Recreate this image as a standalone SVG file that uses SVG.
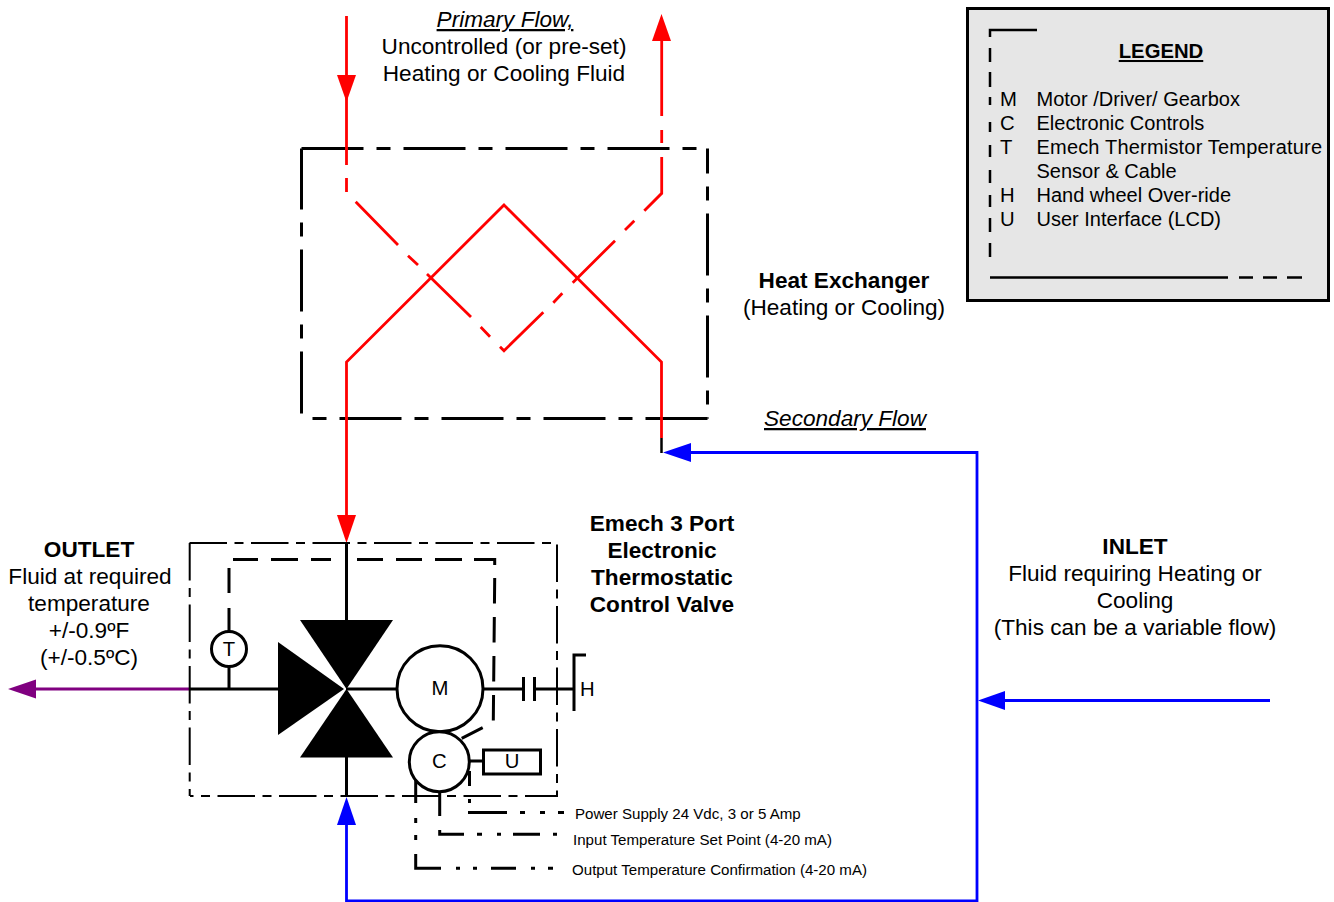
<svg xmlns="http://www.w3.org/2000/svg" width="1334" height="902" viewBox="0 0 1334 902">
<style>
text{font-family:"Liberation Sans",Arial,sans-serif;font-size:22.6px;fill:#000}
.c{text-anchor:middle}
.b{font-weight:bold}
.u{text-decoration:underline}
.i{font-style:italic}
.s{font-size:15.1px}
.l{font-size:20.3px}
.m{font-size:20px}
.k{fill:none;stroke:#000;stroke-width:2.5}
.t{fill:none;stroke:#000;stroke-width:3}
.w{fill:#fff;stroke:#000;stroke-width:3}
.hx{fill:none;stroke:#000;stroke-width:3;stroke-dasharray:62 13 14 13}
.vb{fill:none;stroke:#000;stroke-width:2;stroke-dasharray:37.5 7.5 9 7.5}
.r{fill:none;stroke:#f00;stroke-width:2.8}
.bl{fill:none;stroke:#00f;stroke-width:2.8}
</style>
<g id="heat-exchanger">
<path class="hx" d="M301.5 148.5H707.5"/>
<path class="hx" style="stroke-dashoffset:37" d="M707.5 148.5V418.5"/>
<path class="hx" d="M707.5 418.5H301.5"/>
<path class="hx" style="stroke-dashoffset:97" d="M301.5 418.5V148.5"/>
<path class="r" d="M346.5 515V362L504 205L661.5 362V438"/>
<path d="M661.5 438V453" class="k"/>
</g>
<g id="connectors">
<path class="r" d="M346.5 16V165M346.5 178V192"/>
<path class="r" d="M355.7 201.7L398 245M408 255.7L418 265M427 274L471 317M480.7 327L490 336.7M500 346.7L504 350.7L543.3 312.3M553.3 302.7L562.3 293.3M572.7 282.7L615 240.7M625 230L634.3 220.7M644.3 210.7L661.7 193.3V157M661.7 143V130M661.7 116V41"/>
<path class="bl" d="M690 452.5H977V901H346.5V825"/>
<path class="bl" d="M1270 700.5H1005"/>
<path d="M190 689H36" fill="none" stroke="#800080" stroke-width="2.8"/>
<path d="M346.5 102L337 75H356Z" fill="#f00"/>
<path d="M661.5 14L652 41H671Z" fill="#f00"/>
<path d="M346.5 543L337 515H356Z" fill="#f00"/>
<path d="M663 452.5L691 443V462Z" fill="#00f"/>
<path d="M346.5 797L337 825H356Z" fill="#00f"/>
<path d="M978 700.5L1005 691V710Z" fill="#00f"/>
<path d="M8 689L36 679.5V698.5Z" fill="#800080"/>
</g>
<g id="valve">
<path class="vb" d="M189.5 543H557V796H190"/>
<path class="vb" d="M189.7 543V796"/>
<path class="t" d="M346.5 543V620M346.5 757V796M190 689H278M346 689H397"/>
<path d="M300 620H393L346.5 689Z"/>
<path d="M300 757.5H393L346.5 689Z"/>
<path d="M278 642V735L344 689Z"/>
</g>
<g id="sensor">
<path class="t" d="M229 689V667M229 632V608M229 593V568"/>
<path class="t" d="M233 559.5H258M271 559.5H298M311 559.5H331M357 559.5H383M396 559.5H422M435 559.5H462M474 559.5H494.7V565"/>
<path class="t" style="stroke-dasharray:25.5 13.5" d="M494.7 578L493.3 721"/>
<circle class="w" cx="229" cy="649" r="17.5"/>
<text class="c l" x="229" y="656">T</text>
</g>
<g id="motor">
<path class="t" d="M483 689H523M523.5 677V701M534.5 677V701M534 689H574M574 711V655H586"/>
<circle class="w" cx="440" cy="688.7" r="43"/>
<text class="c l" x="440" y="695">M</text>
<text class="l" x="580" y="696">H</text>
</g>
<g id="controls">
<path class="t" d="M461.7 738.3L482.7 727.7M470 761H483M415.7 780V803M439.7 791V816M469.5 771V786"/>
<circle class="w" cx="439.3" cy="761.7" r="30"/>
<text class="c l" x="439.3" y="768">C</text>
<rect class="t" x="483.5" y="750" width="57" height="24"/>
<text class="c l" x="512" y="768">U</text>
<path class="t" d="M415.7 818V823M415.7 835V840M415.7 854V868.3H441M456 868.3H460M473 868.3H477M491 868.3H516M531 868.3H535M548 868.3H553"/>
<path class="t" d="M439.7 830V834.3H464M477 834.3H482M497 834.3H501M513 834.3H540M553 834.3H557"/>
<path class="t" d="M469.5 799V803M468 812.5H507M520 812.5H525M540 812.5H545M558 812.5H564"/>
</g>
<g id="labels">
<text class="c i u" x="505" y="27">Primary Flow,</text>
<text class="c" x="504" y="54">Uncontrolled (or pre-set)</text>
<text class="c" x="504" y="81">Heating or Cooling Fluid</text>
<text class="c b" x="844" y="288">Heat Exchanger</text>
<text class="c" x="844" y="315">(Heating or Cooling)</text>
<text class="c i u" x="845" y="426">Secondary Flow</text>
<text class="c b" x="89" y="557">OUTLET</text>
<text class="c" x="90" y="584">Fluid at required</text>
<text class="c" x="89" y="611">temperature</text>
<text class="c" x="89" y="638">+/-0.9ºF</text>
<text class="c" x="89" y="665">(+/-0.5ºC)</text>
<text class="c b" x="662" y="531">Emech 3 Port</text>
<text class="c b" x="662" y="558">Electronic</text>
<text class="c b" x="662" y="585">Thermostatic</text>
<text class="c b" x="662" y="612">Control Valve</text>
<text class="c b" x="1135" y="554">INLET</text>
<text class="c" x="1135" y="581">Fluid requiring Heating or</text>
<text class="c" x="1135" y="608">Cooling</text>
<text class="c" x="1135" y="635">(This can be a variable flow)</text>
<text class="s" x="575" y="819">Power Supply 24 Vdc, 3 or 5 Amp</text>
<text class="s" x="573" y="845">Input Temperature Set Point (4-20 mA)</text>
<text class="s" x="572" y="875">Output Temperature Confirmation (4-20 mA)</text>
</g>
<g id="legend">
<rect x="967.5" y="8.5" width="361" height="292" fill="#e6e6e6" stroke="#000" stroke-width="3"/>
<path class="k" d="M1037 30H990V37M990 48V62M990 72V87M990 97V105M990 122V132M990 145V157M990 170V183M990 195V207M990 218V232M990 243V257M990 277.5H1228M1239 277.5H1253M1263 277.5H1277M1287 277.5H1302"/>
<text class="c b u l" x="1161" y="58">LEGEND</text>
<text class="l" x="1000" y="106">M</text><text class="m" x="1036.5" y="106">Motor /Driver/ Gearbox</text>
<text class="l" x="1000" y="130">C</text><text class="m" x="1036.5" y="130">Electronic Controls</text>
<text class="l" x="1000" y="154">T</text><text class="m" x="1036.5" y="154" textLength="285.5">Emech Thermistor Temperature</text>
<text class="m" x="1036.5" y="178">Sensor &amp; Cable</text>
<text class="l" x="1000" y="202">H</text><text class="m" x="1036.5" y="202">Hand wheel Over-ride</text>
<text class="l" x="1000" y="226">U</text><text class="m" x="1036.5" y="226">User Interface (LCD)</text>
</g>
</svg>
